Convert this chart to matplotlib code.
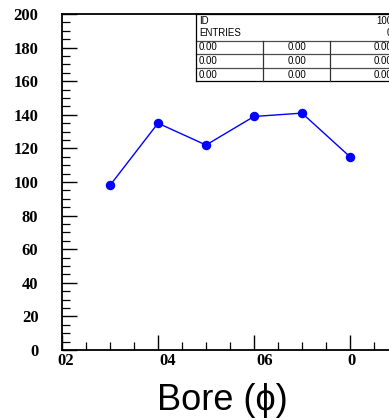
import numpy as np
import matplotlib.pyplot as plt
from matplotlib.lines import Line2D
from matplotlib.ticker import MultipleLocator, FixedLocator
from matplotlib.transforms import ScaledTranslation

W, H = 389, 420

# datos
x_pos = [2, 4, 6, 8, 10, 12]
values = [98, 135, 122, 139, 141, 115]
x_major = [0, 4, 8, 12, 16]
x_labels = ["02", "04", "06", "0", ""]
y_major = [0, 20, 40, 60, 80, 100, 120, 140, 160, 180, 200]

# tabla de estadisticas (cortada a la derecha)
head_left = ["ID", "ENTRIES"]
head_right = ["100", "0"]
rows = [["0.00", "0.00", "0.00"],
        ["0.00", "0.00", "0.00"],
        ["0.00", "0.00", "0.00"]]


def fx(px):
    return px / W


def fy(py):
    return 1 - py / H


fig = plt.figure(figsize=(W / 100, H / 100), dpi=100)
ax = fig.add_axes([fx(62), fy(350), fx(446 - 62), (350 - 14) / H])

ax.plot(x_pos, values, color="#0000ff", lw=1.0, marker="o", ms=5.8)

ax.set_xlim(0, 16)
ax.set_ylim(0, 200)
ax.xaxis.set_major_locator(FixedLocator(x_major))
ax.xaxis.set_minor_locator(MultipleLocator(1))
ax.yaxis.set_major_locator(FixedLocator(y_major))
ax.yaxis.set_minor_locator(MultipleLocator(5))
ax.set_xticklabels(x_labels)
ax.set_yticklabels([str(v) for v in y_major])

for sp in ax.spines.values():
    sp.set_linewidth(1.3)
ax.tick_params(which="major", direction="in", length=11, width=1.0)
ax.tick_params(which="minor", direction="in", length=5.5, width=0.9)
ax.tick_params(axis="y", which="major", pad=17)
ax.tick_params(axis="x", which="major", pad=2)
for lab in ax.get_xticklabels() + ax.get_yticklabels():
    lab.set_fontfamily("Liberation Serif")
    lab.set_fontweight("bold")
    lab.set_fontsize(12)

# las etiquetas del eje x quedan algo corridas a la derecha en el original
for lab, dx in zip(ax.get_xticklabels(), [4, 10, 11, 1, 0]):
    lab.set_transform(lab.get_transform() + ScaledTranslation(dx / 100, 0, fig.dpi_scale_trans))

fig.text(fx(222), fy(400), "Bore (\u03d5)", ha="center", va="center",
         fontsize=26, family=["Liberation Sans", "DejaVu Sans"])

# tabla
tx0, tx1 = 196, 400
ty = [14, 41, 54, 68, 81]
cols = [196, 263, 330]


def hline(y, x0, x1, c="black", lw=0.9):
    fig.add_artist(Line2D([fx(x0), fx(x1)], [fy(y), fy(y)], color=c, lw=lw))


def vline(x, y0, y1, c="black", lw=0.9):
    fig.add_artist(Line2D([fx(x), fx(x)], [fy(y0), fy(y1)], color=c, lw=lw))


fig.add_artist(plt.Rectangle((fx(tx0), fy(ty[-1])), fx(tx1 - tx0), (ty[-1] - ty[0]) / H,
                             facecolor="white", edgecolor="none", zorder=2))
hline(ty[0], tx0, tx1)
hline(ty[-1], tx0, tx1)
for y in ty[1:-1]:
    hline(y, tx0, tx1, c="0.3")
vline(tx0, ty[0], ty[-1])
for x in cols[1:]:
    vline(x, ty[1], ty[-1], c="0.2")

tkw = dict(fontsize=7, family="Liberation Sans", va="center")
for i, (a, b) in enumerate(zip(head_left, head_right)):
    yy = 21 + 12 * i
    fig.text(fx(199), fy(yy), a, ha="left", **tkw)
    fig.text(fx(392), fy(yy), b, ha="right", **tkw)
for i, r in enumerate(rows):
    yy = (ty[i + 1] + ty[i + 2]) / 2
    fig.text(fx(199), fy(yy), r[0], ha="left", **tkw)
    fig.text(fx(297), fy(yy), r[1], ha="center", **tkw)
    fig.text(fx(392), fy(yy), r[2], ha="right", **tkw)

fig.savefig("out.png", dpi=100)
